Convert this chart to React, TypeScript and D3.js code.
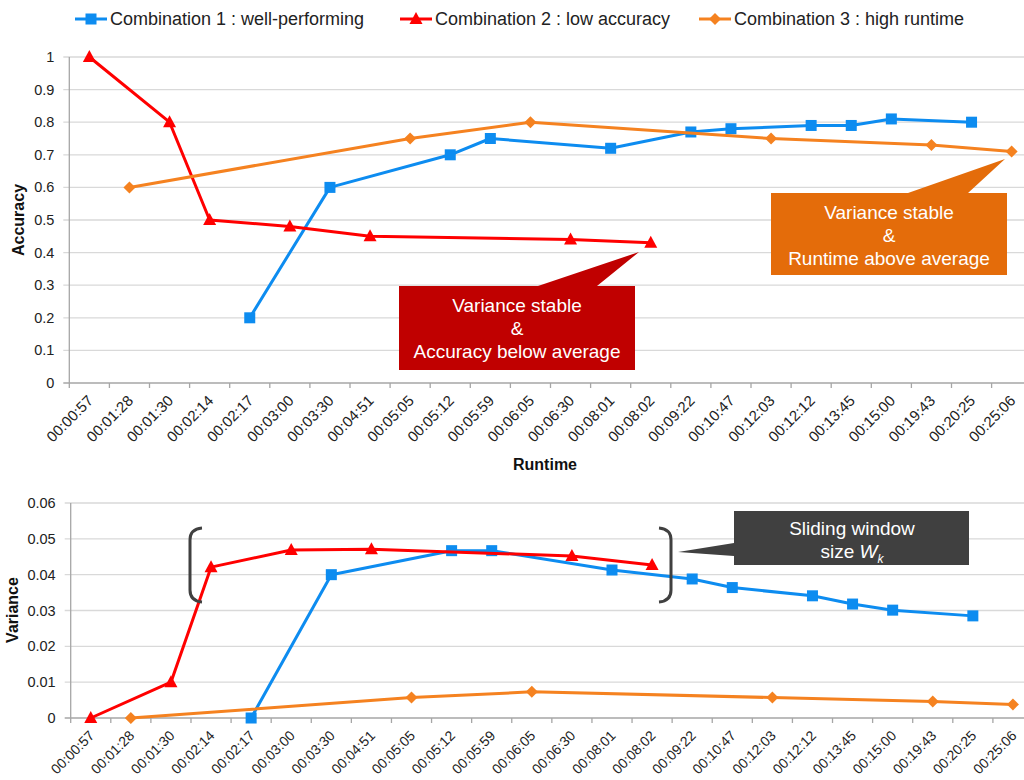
import * as d3 from "d3";
import * as React from "react";

// runtime categories (x axis)
const runtimes = [
  "00:00:57", "00:01:28", "00:01:30", "00:02:14", "00:02:17", "00:03:00",
  "00:03:30", "00:04:51", "00:05:05", "00:05:12", "00:05:59", "00:06:05",
  "00:06:30", "00:08:01", "00:08:02", "00:09:22", "00:10:47", "00:12:03",
  "00:12:12", "00:13:45", "00:15:00", "00:19:43", "00:20:25", "00:25:06",
];

const seriesNames = [
  "Combination 1 : well-performing",
  "Combination 2 : low accuracy",
  "Combination 3 : high runtime",
];

// accuracy per combination (null = no measurement at that runtime)
const accWell = [null, null, null, null, 0.2, null, 0.6, null, null, 0.7, 0.75, null, null, 0.72, null, 0.77, 0.78, null, 0.79, 0.79, 0.81, null, 0.8, null];
const accLow = [1.0, null, 0.8, 0.5, null, 0.48, null, 0.45, null, null, null, null, 0.44, null, 0.43, null, null, null, null, null, null, null, null, null];
const accHigh = [null, 0.6, null, null, null, null, null, null, 0.75, null, null, 0.8, null, null, null, null, null, 0.75, null, null, null, 0.73, null, 0.71];

// variance per combination
const varWell = [null, null, null, null, 0, null, 0.04, null, null, 0.0467, 0.0467, null, null, 0.0413, null, 0.0388, 0.0364, null, 0.0341, 0.0318, 0.0301, null, 0.0285, null];
const varLow = [0, null, 0.01, 0.0421, null, 0.0469, null, 0.0471, null, null, null, null, 0.0452, null, 0.0427, null, null, null, null, null, null, null, null, null];
const varHigh = [null, 0, null, null, null, null, null, null, 0.0057, null, null, 0.0073, null, null, null, null, null, 0.0057, null, null, null, 0.0046, null, 0.0038];

const accTicks = [0, 0.1, 0.2, 0.3, 0.4, 0.5, 0.6, 0.7, 0.8, 0.9, 1];
const varTicks = [0, 0.01, 0.02, 0.03, 0.04, 0.05, 0.06];

const BLUE = "#0D8CF0";
const RED = "#FF0000";
const ORANGE = "#F58220";
const GRID = "#D9D9D9";
const AXIS = "#A6A6A6";
const FONT = "'Liberation Sans', Arial, sans-serif";

function marker(kind: string, x: number, y: number, color: string, key: string) {
  if (kind === "square") {
    return <rect key={key} x={x - 5.5} y={y - 5.5} width={11} height={11} fill={color} />;
  }
  if (kind === "triangle") {
    return <path key={key} d={`M${x},${y - 7}L${x + 6.5},${y + 5}L${x - 6.5},${y + 5}Z`} fill={color} />;
  }
  return <path key={key} d={`M${x},${y - 6}L${x + 6},${y}L${x},${y + 6}L${x - 6},${y}Z`} fill={color} />;
}

interface PanelProps {
  x0: number;
  x1: number;
  yTop: number;
  yBottom: number;
  domainMax: number;
  ticks: number[];
  labelSize: number;
  series: { values: (number | null)[]; color: string; kind: string }[];
  id: string;
}

function Panel(props: PanelProps) {
  const { x0, x1, yTop, yBottom, domainMax, ticks, series, id, labelSize } = props;
  const x = d3.scaleBand().domain(runtimes).range([x0, x1]).paddingInner(0).paddingOuter(0);
  const y = d3.scaleLinear().domain([0, domainMax]).range([yBottom, yTop]);
  const fmt = d3.format("~g");
  const cx = (i: number) => (x(runtimes[i]) as number) + x.bandwidth() / 2;
  const line = d3.line<[number, number]>().x((d) => cx(d[0])).y((d) => y(d[1]));

  return (
    <g>
      {ticks.map((t) => (
        <g key={id + "g" + t}>
          <line x1={x0 - 6} x2={1024} y1={y(t)} y2={y(t)} stroke={t === 0 ? AXIS : GRID} strokeWidth={1.3} />
          <text x={x0 - 15} y={y(t)} dy="0.35em" textAnchor="end" fontSize={14.5} fill="#222" fontFamily={FONT}>
            {fmt(t)}
          </text>
        </g>
      ))}
      <line x1={x0} x2={x0} y1={yTop} y2={yBottom} stroke={AXIS} strokeWidth={1.3} />
      {runtimes.map((r, i) => (
        <line key={id + "t" + i} x1={x(r)} x2={x(r)} y1={yBottom} y2={yBottom + 5} stroke={AXIS} strokeWidth={1.3} />
      ))}
      {runtimes.map((r, i) => (
        <text
          key={id + "l" + i}
          transform={`translate(${cx(i) + 1},${yBottom + 15}) rotate(-45)`}
          dy="0.35em"
          textAnchor="end"
          fontSize={labelSize}
          fill="#222"
          fontFamily={FONT}
        >
          {r}
        </text>
      ))}
      {series.map((s, si) => {
        const pts = s.values
          .map((v, i) => [i, v] as [number, number | null])
          .filter((d) => d[1] !== null) as [number, number][];
        return (
          <g key={id + "s" + si}>
            <path d={line(pts) as string} fill="none" stroke={s.color} strokeWidth={3} strokeLinejoin="round" />
            {pts.map((p) => marker(s.kind, cx(p[0]), y(p[1]), s.color, id + "m" + si + "_" + p[0]))}
          </g>
        );
      })}
    </g>
  );
}

export default function App() {
  const colors = [BLUE, RED, ORANGE];
  const kinds = ["square", "triangle", "diamond"];
  const legendX = [75, 400, 699];

  return (
    <svg width={1024} height={780} style={{ position: "absolute", left: 0, top: 0, background: "#fff" }} fontFamily={FONT}>
      {/* legend */}
      {seriesNames.map((n, i) => (
        <g key={"leg" + i}>
          <line x1={legendX[i]} x2={legendX[i] + 32} y1={19} y2={19} stroke={colors[i]} strokeWidth={3} />
          {marker(kinds[i], legendX[i] + 16, 19, colors[i], "legm" + i)}
          <text x={legendX[i] + 35} y={19} dy="0.35em" fontSize={18} fill="#222">
            {n}
          </text>
        </g>
      ))}

      <Panel
        id="acc"
        x0={69.3}
        x1={1031.7}
        yTop={57}
        yBottom={383}
        domainMax={1}
        ticks={accTicks}
        labelSize={15}
        series={[
          { values: accWell, color: BLUE, kind: "square" },
          { values: accLow, color: RED, kind: "triangle" },
          { values: accHigh, color: ORANGE, kind: "diamond" },
        ]}
      />
      <text transform="translate(24,220) rotate(-90)" textAnchor="middle" fontSize={16} fontWeight="bold" fill="#111">
        Accuracy
      </text>
      <text x={545} y={470} textAnchor="middle" fontSize={16} fontWeight="bold" fill="#111">
        Runtime
      </text>

      <Panel
        id="var"
        x0={70.7}
        x1={1033}
        yTop={503}
        yBottom={718}
        domainMax={0.06}
        ticks={varTicks}
        labelSize={14}
        series={[
          { values: varWell, color: BLUE, kind: "square" },
          { values: varLow, color: RED, kind: "triangle" },
          { values: varHigh, color: ORANGE, kind: "diamond" },
        ]}
      />
      <text transform="translate(18,610) rotate(-90)" textAnchor="middle" fontSize={16} fontWeight="bold" fill="#111">
        Variance
      </text>

      {/* callout: low accuracy */}
      <path d="M399,286L538,286L639,252L597,286L635,286L635,370L399,370Z" fill="#C00000" />
      <g fill="#fff" fontSize={19} textAnchor="middle">
        <text x={517} y={305} dy="0.35em">Variance stable</text>
        <text x={517} y={328} dy="0.35em">&amp;</text>
        <text x={517} y={351} dy="0.35em">Accuracy below average</text>
      </g>

      {/* callout: high runtime */}
      <path d="M771,193L908,193L1005,159L968,193L1007,193L1007,275L771,275Z" fill="#E46C0A" />
      <g fill="#fff" fontSize={19} textAnchor="middle">
        <text x={889} y={212} dy="0.35em">Variance stable</text>
        <text x={889} y={235} dy="0.35em">&amp;</text>
        <text x={889} y={258} dy="0.35em">Runtime above average</text>
      </g>

      {/* sliding window brackets + callout */}
      <path d="M202,528Q190,529 190,540L190,590Q190,601 202,602" fill="none" stroke="#404040" strokeWidth={3} />
      <path d="M659,528Q671,529 671,540L671,590Q671,601 659,602" fill="none" stroke="#404040" strokeWidth={3} />
      <path d="M734,511L969,511L969,565L734,565L734,556L678,552L734,543Z" fill="#404040" />
      <g fill="#fff" fontSize={19} textAnchor="middle">
        <text x={852} y={528} dy="0.35em">Sliding window</text>
        <text x={852} y={551} dy="0.35em">
          size <tspan fontStyle="italic">W</tspan>
          <tspan fontStyle="italic" fontSize={12} dy="5">k</tspan>
        </text>
      </g>
    </svg>
  );
}
